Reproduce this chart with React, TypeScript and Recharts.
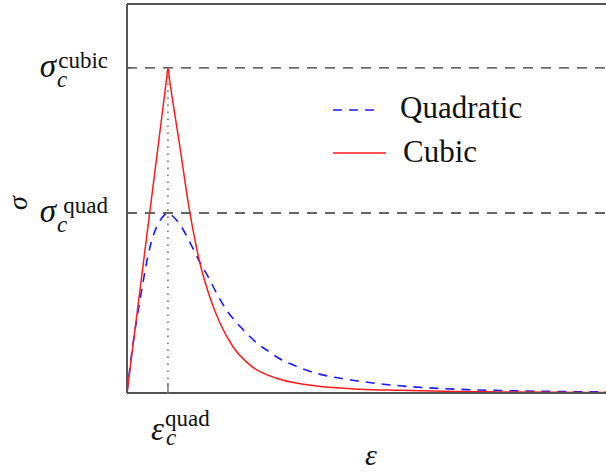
import { ComposedChart, Line, XAxis, YAxis, ReferenceLine } from 'recharts';

// strain / stress (stress in units of sigma_c^quad)
const quadStrain = [0, 0.12, 0.32, 0.56, 0.76, 0.9, 1.0, 1.12, 1.31, 1.56, 1.78, 1.98, 2.19, 2.43, 2.68, 2.92, 3.2, 3.41, 3.73, 4.06, 4.63, 5.1, 5.6, 6.66, 7.5, 8.3, 9.5, 10.6, 11.7];
const quadStress = [0, 0.23, 0.52, 0.81, 0.94, 0.985, 1.0, 0.982, 0.93, 0.826, 0.726, 0.646, 0.554, 0.461, 0.39, 0.332, 0.272, 0.239, 0.19, 0.156, 0.109, 0.086, 0.068, 0.04, 0.027, 0.019, 0.012, 0.008, 0.006];

const cubicStrain = [0, 0.5, 0.9, 0.97, 1.0, 1.04, 1.27, 1.537, 1.78, 2.02, 2.27, 2.59, 3.0, 3.65, 4.46, 5.68, 6.66, 8.0, 9.1, 10.4, 11.7];
const cubicStress = [0, 0.903, 1.625, 1.752, 1.806, 1.74, 1.4, 1.0, 0.722, 0.535, 0.389, 0.257, 0.156, 0.082, 0.044, 0.021, 0.015, 0.009, 0.006, 0.004, 0.003];

const sigmaQuad = 1.0;
const sigmaCubic = 1.806;
const epsQuad = 1.0;
const xMax = 11.7;
const yMax = 2.161;

const quadData = quadStrain.map((x, i) => ({ x, y: quadStress[i] }));
const cubicData = cubicStrain.map((x, i) => ({ x, y: cubicStress[i] }));

const FONT = '"Liberation Serif", "DejaVu Serif", serif';
const INK = '#111';
const AXIS = '#555';
const BLUE = '#1a1aff';
const RED = '#ff1a1a';

const YTick = (props: any) => {
  const { x, y, payload } = props;
  const sup = payload.value > 1.5 ? 'cubic' : 'quad';
  return (
    <g fontFamily={FONT} fill={INK}>
      <line x1={x} x2={x + 4} y1={y} y2={y} stroke={AXIS} strokeWidth={1.2} />
      <text x={x - 71} y={y + 9} fontSize={33} fontStyle="italic" textAnchor="end">σ</text>
      <text x={x - 70} y={y + 19} fontSize={23} fontStyle="italic">c</text>
      <text x={x - 19} y={y} fontSize={23} textAnchor="end">{sup}</text>
    </g>
  );
};

const XTick = (props: any) => {
  const { x, y } = props;
  return (
    <g fontFamily={FONT} fill={INK}>
      <line x1={x} x2={x} y1={y} y2={y - 10} stroke="#777" strokeWidth={1.5} />
      <text x={x - 4} y={y + 47} fontSize={33} fontStyle="italic" textAnchor="end">ε</text>
      <text x={x - 2} y={y + 52} fontSize={23} fontStyle="italic">c</text>
      <text x={x - 3} y={y + 33} fontSize={23}>quad</text>
    </g>
  );
};

const TopTick = (props: any) => {
  const { x, y } = props;
  return <line x1={x} x2={x} y1={y} y2={y + 12} stroke="#aaa" strokeWidth={1.5} />;
};

const XLabel = (props: any) => {
  const { viewBox } = props;
  return (
    <text x={viewBox.x + 244} y={viewBox.y + 72} fontFamily={FONT} fontSize={30} fontStyle="italic" fill={INK} textAnchor="middle">
      ε
    </text>
  );
};

const YLabel = (props: any) => {
  const { viewBox } = props;
  const cx = 27;
  const cy = viewBox.y + 199;
  return (
    <text x={cx} y={cy} transform={`rotate(-90 ${cx} ${cy})`} fontFamily={FONT} fontSize={28} fontStyle="italic" fill={INK} textAnchor="middle">
      σ
    </text>
  );
};

const LegendBox = () => (
  <svg width={220} height={90} style={{ position: 'absolute', left: 330, top: 85, overflow: 'visible' }}>
    <line x1={3} x2={50} y1={25} y2={25} stroke={BLUE} strokeWidth={1.6} strokeDasharray="9 7" />
    <text x={70} y={33} fontFamily={FONT} fontSize={31} fill={INK}>Quadratic</text>
    <line x1={3} x2={56} y1={68} y2={68} stroke={RED} strokeWidth={1.6} />
    <text x={73} y={77} fontFamily={FONT} fontSize={31} fill={INK}>Cubic</text>
  </svg>
);

export default function App() {
  return (
    <div style={{ position: 'absolute', left: 0, top: 0, width: 606, height: 473, background: '#fff' }}>
      <ComposedChart width={606} height={473} margin={{ top: 0, right: 0, left: 0, bottom: 0 }}>
        <XAxis
          dataKey="x"
          type="number"
          domain={[0, xMax]}
          ticks={[epsQuad]}
          allowDataOverflow
          height={80}
          axisLine={{ stroke: AXIS, strokeWidth: 2 }}
          tickLine={false}
          tickSize={0}
          tickMargin={0}
          tick={<XTick />}
          label={<XLabel />}
        />
        <XAxis
          xAxisId="top"
          orientation="top"
          type="number"
          domain={[0, xMax]}
          ticks={[epsQuad]}
          allowDataOverflow
          height={4}
          axisLine={{ stroke: AXIS, strokeWidth: 2 }}
          tickLine={false}
          tickSize={0}
          tickMargin={0}
          tick={<TopTick />}
        />
        <YAxis
          type="number"
          domain={[0, yMax]}
          ticks={[sigmaQuad, sigmaCubic]}
          allowDataOverflow
          width={127}
          axisLine={{ stroke: AXIS, strokeWidth: 2 }}
          tickLine={false}
          tickSize={0}
          tickMargin={0}
          tick={<YTick />}
          label={<YLabel />}
        />
        <ReferenceLine y={sigmaCubic} stroke="#333" strokeWidth={1.3} strokeDasharray="10 8" />
        <ReferenceLine y={sigmaQuad} stroke="#333" strokeWidth={1.3} strokeDasharray="10 8" />
        <ReferenceLine
          segment={[{ x: epsQuad, y: 0 }, { x: epsQuad, y: sigmaCubic }]}
          stroke="#666"
          strokeWidth={1.5}
          strokeDasharray="1.5 5.5"
        />
        <Line
          data={quadData}
          dataKey="y"
          type="monotone"
          stroke={BLUE}
          strokeWidth={1.6}
          strokeDasharray="9 7"
          dot={false}
          isAnimationActive={false}
          name="Quadratic"
        />
        <Line
          data={cubicData}
          dataKey="y"
          type="monotone"
          stroke={RED}
          strokeWidth={1.5}
          dot={false}
          isAnimationActive={false}
          name="Cubic"
        />
      </ComposedChart>
      <LegendBox />
    </div>
  );
}
